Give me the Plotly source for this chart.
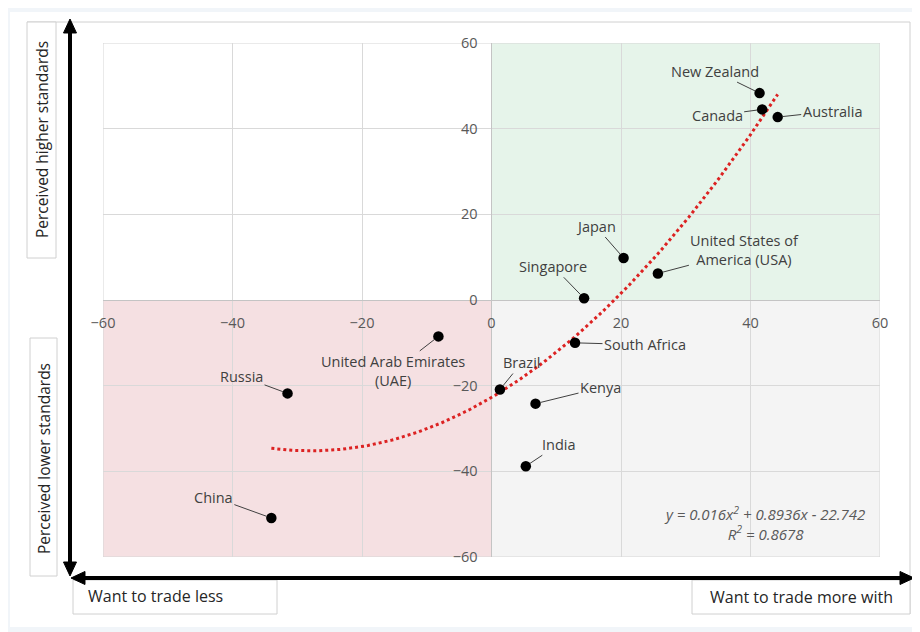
import numpy as np
import plotly.graph_objects as go

# ---------------- data ----------------
countries = ["New Zealand", "Canada", "Australia", "Japan", "United States of<br>America (USA)",
             "Singapore", "South Africa", "Brazil", "Kenya", "India",
             "United Arab Emirates<br>(UAE)", "Russia", "China"]
trade_x = [41.4, 41.8, 44.2, 20.4, 25.7, 14.3, 12.9, 1.3, 6.8, 5.3, -8.2, -31.5, -34.0]
standards_y = [48.3, 44.5, 42.7, 9.8, 6.2, 0.4, -10.0, -20.9, -24.2, -38.8, -8.5, -21.8, -50.9]
trend_coef = [0.016, 0.8936, -22.742]   # y = a x^2 + b x + c (as shown on chart)
r_squared = 0.8678
tick_vals = [-60, -40, -20, 0, 20, 40, 60]

# label offsets in pixels (text centre relative to point)
label_offsets = [(-45, -22), (-45, 6), (55, -6), (-28, -32), (87, -23), (-31, -32),
                 (70, 2), (22, -27), (65, -16), (33, -22), (-45, 35), (-46, -17), (-58, -21)]

# ---------------- layout helpers ----------------
PAGE_OFF = 8            # default body margin of the html page
W, H = 920, 632         # window size
L, R, T, B = 103, 880, 43, 557   # plot area in page pixels


def px(x):
    return (x - L) / (R - L)


def py(y):
    return (B - y) / (B - T)


def tri(pts):
    return "M " + " L ".join(f"{px(a):.5f},{py(b):.5f}" for a, b in pts) + " Z"


FONT = "Open Sans"
fig = go.Figure()

# trendline
xs = np.linspace(min(trade_x), max(trade_x), 200)
ys = np.polyval(trend_coef, xs)
fig.add_trace(go.Scatter(x=xs, y=ys, mode="lines",
                         line=dict(color="#dc2222", width=3, dash="dot"),
                         hoverinfo="skip", showlegend=False))

# points
fig.add_trace(go.Scatter(x=trade_x, y=standards_y, mode="markers",
                         marker=dict(color="#000000", size=10.5),
                         text=countries, hoverinfo="text", showlegend=False))

shapes = []
# outer white panel
shapes.append(dict(type="rect", xref="paper", yref="paper", x0=px(10), x1=px(925),
                   y0=py(12), y1=py(627), fillcolor="white", line=dict(width=0), layer="below"))
# quadrants
shapes.append(dict(type="rect", xref="x", yref="y", x0=0, x1=60, y0=0, y1=60,
                   fillcolor="#e6f4ea", line=dict(width=0), layer="below"))
shapes.append(dict(type="rect", xref="x", yref="y", x0=-60, x1=0, y0=-60, y1=0,
                   fillcolor="#f5e0e2", line=dict(width=0), layer="below"))
shapes.append(dict(type="rect", xref="x", yref="y", x0=0, x1=60, y0=-60, y1=0,
                   fillcolor="#f4f4f4", line=dict(width=0), layer="below"))
# plot outline
shapes.append(dict(type="rect", xref="x", yref="y", x0=-60, x1=60, y0=-60, y1=60,
                   line=dict(color="#d6d6d6", width=1), layer="below"))
# chart frame top/right
frame = "#d0d0d0"
shapes.append(dict(type="line", xref="paper", yref="paper", x0=px(27), x1=px(910),
                   y0=py(22), y1=py(22), line=dict(color=frame, width=1)))
shapes.append(dict(type="line", xref="paper", yref="paper", x0=px(910), x1=px(910),
                   y0=py(22), y1=py(614), line=dict(color=frame, width=1)))
# label boxes
for (x0, y0, x1, y1) in [(27, 22, 56, 258), (30, 338, 57, 576), (73, 580, 277, 614), (692, 580, 910, 614)]:
    shapes.append(dict(type="rect", xref="paper", yref="paper", x0=px(x0), x1=px(x1),
                       y0=py(y1), y1=py(y0), fillcolor="white", line=dict(color=frame, width=1)))

# big double-headed arrows (lines + triangle heads)
shapes.append(dict(type="line", xref="paper", yref="paper", x0=px(70), x1=px(70),
                   y0=py(28), y1=py(568), line=dict(color="black", width=4)))
shapes.append(dict(type="line", xref="paper", yref="paper", x0=px(80), x1=px(905),
                   y0=py(578), y1=py(578), line=dict(color="black", width=4)))
for pts in [[(70, 19), (63.5, 33), (76.5, 33)],
            [(70, 576), (63.5, 562), (76.5, 562)],
            [(71, 578), (85, 571.5), (85, 584.5)],
            [(914, 578), (900, 571.5), (900, 584.5)]]:
    shapes.append(dict(type="path", xref="paper", yref="paper", path=tri(pts),
                       fillcolor="black", line=dict(color="black", width=1)))

annotations = []
# data labels with leader lines
for name, xv, yv, (ox, oy) in zip(countries, trade_x, standards_y, label_offsets):
    annotations.append(dict(x=xv, y=yv, xref="x", yref="y", text=name, showarrow=True,
                            arrowhead=0, arrowwidth=1, arrowcolor="#404040",
                            ax=ox, ay=oy, standoff=5, align="center",
                            font=dict(family=FONT, size=14.5, color="#404040")))

# equation
eq = (f"<i>y = {trend_coef[0]}x<sup>2</sup> + {trend_coef[1]}x - {abs(trend_coef[2])}</i><br>"
      f"<i>R<sup>2</sup> = {r_squared}</i>")
annotations.append(dict(x=px(764), y=py(523), xref="paper", yref="paper", text=eq,
                        xanchor="center", yanchor="middle",
                        showarrow=False, align="center",
                        font=dict(family=FONT, size=15, color="#595959")))

cap_font = dict(family=FONT, size=15.5, color="#262626")
# side / bottom captions
annotations.append(dict(x=px(42), y=py(140), xref="paper", yref="paper",
                        xanchor="center", yanchor="middle",
                        text="Perceived higher standards", textangle=-90, showarrow=False,
                        font=cap_font))
annotations.append(dict(x=px(44), y=py(458), xref="paper", yref="paper",
                        xanchor="center", yanchor="middle",
                        text="Perceived lower standards", textangle=-90, showarrow=False,
                        font=cap_font))
annotations.append(dict(x=px(86), y=py(596), xref="paper", yref="paper",
                        xanchor="left", yanchor="middle",
                        text="Want to trade less", showarrow=False,
                        font=dict(family=FONT, size=16, color="#262626")))
annotations.append(dict(x=px(801), y=py(597), xref="paper", yref="paper",
                        xanchor="center", yanchor="middle",
                        text="Want to trade more with", showarrow=False,
                        font=dict(family=FONT, size=16, color="#262626")))

axis_common = dict(range=[-60, 60], tickvals=tick_vals, showgrid=True, gridcolor="#d9d9d9",
                   gridwidth=1, zeroline=True, zerolinecolor="#c4c4c4", zerolinewidth=1,
                   showline=False, ticks="", anchor="free", position=0.5,
                   tickfont=dict(family=FONT, size=14.5, color="#595959"),
                   fixedrange=True)

fig.update_layout(
    width=W - PAGE_OFF, height=H - PAGE_OFF,
    margin=dict(l=L - PAGE_OFF, r=W - R, t=T - PAGE_OFF, b=H - B, pad=0),
    paper_bgcolor="#f1f5f9", plot_bgcolor="rgba(0,0,0,0)",
    xaxis=dict(axis_common, ticklabelstandoff=12),
    yaxis=dict(axis_common, ticklabelstandoff=14),
    shapes=shapes, annotations=annotations, showlegend=False,
)

fig.write_html("out.html")
